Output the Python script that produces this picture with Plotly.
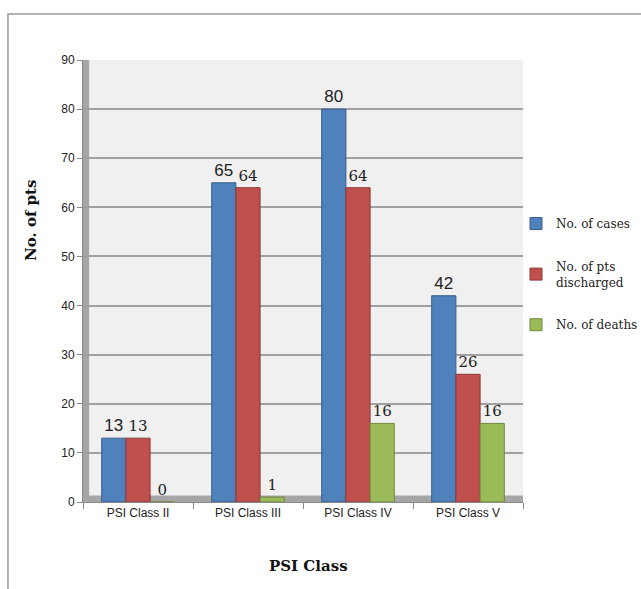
import plotly.graph_objects as go

categories = ["PSI Class II", "PSI Class III", "PSI Class IV", "PSI Class V"]
cases = [13, 65, 80, 42]
discharged = [13, 64, 64, 26]
deaths = [0, 1, 16, 16]
series_names = ["No. of cases", "No. of pts<br>discharged", "No. of deaths"]
colors = ["#4f81bd", "#c0504d", "#9bbb59"]
edge_colors = ["#385d8a", "#8c3836", "#71893f"]
label_fonts = ["Liberation Sans", "DejaVu Serif", "DejaVu Serif"]
y_ticks = [0, 10, 20, 30, 40, 50, 60, 70, 80, 90]
x_title = "PSI Class"
y_title = "No. of pts"

fig = go.Figure()
for i, (name, vals, c, ec, lf) in enumerate(zip(series_names, [cases, discharged, deaths], colors, edge_colors, label_fonts)):
    fig.add_trace(go.Bar(
        x=categories, y=vals, name=name, legendgroup=f"g{i}",
        marker=dict(color=c, line=dict(color=ec, width=1)),
        text=[str(v) for v in vals], textposition="outside",
        textfont=dict(family=lf, size=17 if lf != "DejaVu Serif" else 15, color="#222222"),
        cliponaxis=False,
    ))

# decorative 3D-ish wall and floor
fig.add_shape(type="rect", xref="x domain", yref="y", x0=0, x1=1, y0=0, y1=1.3,
              fillcolor="#a6a6a6", line=dict(width=0), layer="below")
fig.add_shape(type="rect", xref="x domain", yref="y", x0=0, x1=0.014, y0=0, y1=90,
              fillcolor="#a6a6a6", line=dict(width=0), layer="below")
# outer frame
fig.add_shape(type="rect", xref="paper", yref="paper", x0=-0.1705, x1=1.4, y0=-0.3, y1=1.104,
              fillcolor="rgba(0,0,0,0)", line=dict(color="#999999", width=1.5))

# axis titles
fig.add_annotation(text=f"<b>{y_title}</b>", xref="paper", yref="paper",
                   x=-0.118, y=0.636, textangle=-90, showarrow=False,
                   xanchor="center", yanchor="middle",
                   font=dict(family="DejaVu Serif", size=15, color="#111111"))
fig.add_annotation(text=f"<b>{x_title}</b>", xref="paper", yref="paper",
                   x=0.5136, y=-0.145, showarrow=False,
                   xanchor="center", yanchor="middle",
                   font=dict(family="DejaVu Serif", size=15, color="#111111"))

fig.update_layout(
    width=641, height=589,
    margin=dict(l=83, r=118, t=60, b=87, autoexpand=False),
    paper_bgcolor="white", plot_bgcolor="#f0f0f0",
    barmode="group", bargap=0.34, bargroupgap=0,
    showlegend=True,
    legend=dict(xref="container", yref="container", x=516 / 641, y=1 - 209 / 589,
                xanchor="left", yanchor="top",
                font=dict(family="DejaVu Serif", size=12, color="#222222"),
                itemwidth=30, tracegroupgap=24, bgcolor="rgba(0,0,0,0)"),
    xaxis=dict(
        type="category", tickson="boundaries", ticks="outside", ticklen=6, tickcolor="#888888",
        showline=True, linecolor="#888888", linewidth=1,
        tickfont=dict(family="Liberation Sans", size=12, color="#222222"),
        showgrid=False,
    ),
    yaxis=dict(
        range=[0, 90], tickvals=y_ticks, ticks="outside", ticklen=5, tickcolor="#888888",
        showline=True, linecolor="#888888", linewidth=1,
        gridcolor="#a0a0a0", gridwidth=1.5,
        tickfont=dict(family="Liberation Sans", size=12, color="#222222"),
        zeroline=False,
    ),
)

fig.write_html("out.html")
